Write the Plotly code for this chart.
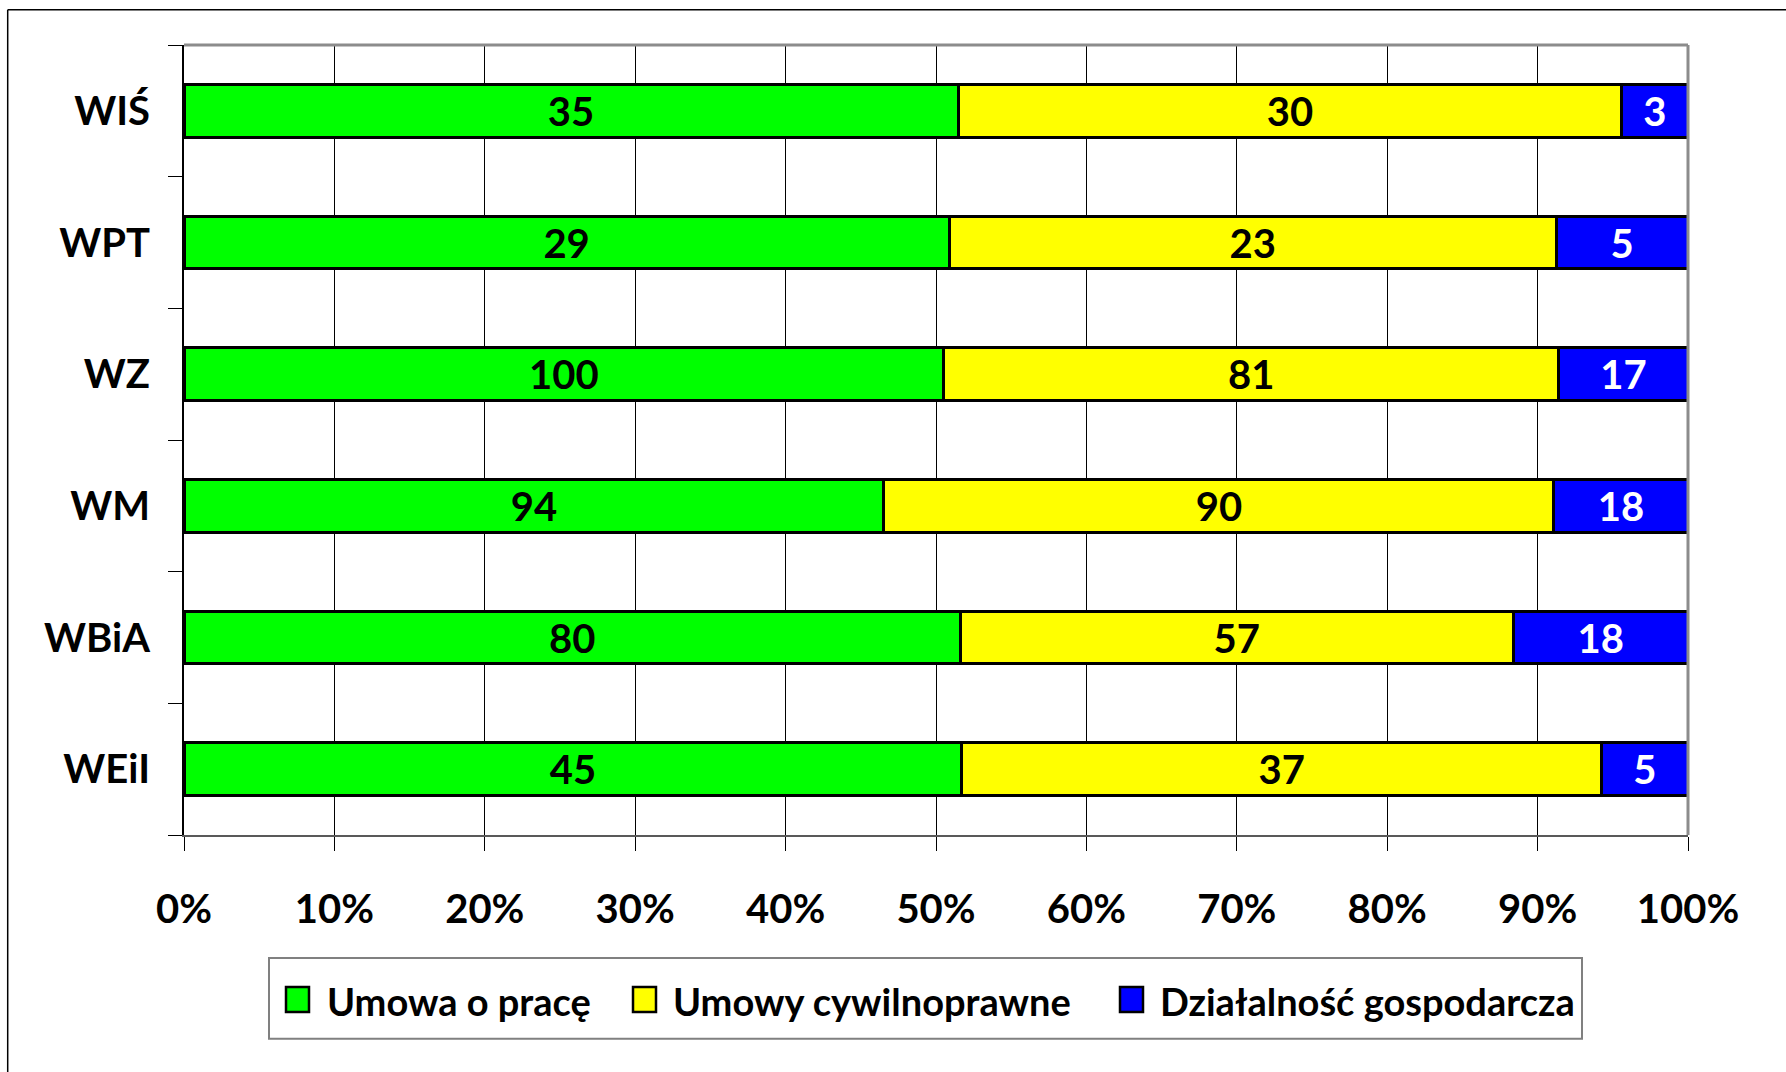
import plotly.graph_objects as go

categories = ["WEiI", "WBiA", "WM", "WZ", "WPT", "WIŚ"]
umowa_o_prace = [45, 80, 94, 100, 29, 35]
umowy_cywilnoprawne = [37, 57, 90, 81, 23, 30]
dzialalnosc = [5, 18, 18, 17, 5, 3]
series_names = ["Umowa o pracę", "Umowy cywilnoprawne", "Działalność gospodarcza"]
tick_vals = [0, 10, 20, 30, 40, 50, 60, 70, 80, 90, 100]
tick_text = ["0%", "10%", "20%", "30%", "40%", "50%", "60%", "70%", "80%", "90%", "100%"]

colors = ["#00FF00", "#FFFF00", "#0000FF"]
text_colors = ["#000000", "#000000", "#FFFFFF"]
FONT = "Lato, 'Open Sans', sans-serif"
FS = 40
LFS = 38

W, H = 1786, 1072
L, R, T, B = 184, 1688, 44.5, 835
pw, ph = R - L, B - T


def px(x):
    return (x - L) / pw


def py(y):
    return (B - y) / ph


fig = go.Figure()
for name, vals, c, tc in zip(series_names, [umowa_o_prace, umowy_cywilnoprawne, dzialalnosc], colors, text_colors):
    fig.add_trace(go.Bar(
        y=categories, x=vals, name=name, orientation="h",
        marker=dict(color=c, line=dict(color="#000000", width=3)),
        text=[str(v) for v in vals], textposition="inside", insidetextanchor="middle",
        textangle=0, constraintext="none",
        textfont=dict(family=FONT, size=FS, color=tc, weight="bold"),
        showlegend=False, hoverinfo="x+y+name",
    ))

shapes = []
# outer frame (left and top only)
shapes.append(dict(type="line", xref="paper", yref="paper", x0=px(7.7), x1=px(7.7), y0=py(1080), y1=py(9.3),
                   line=dict(color="#000000", width=1.5)))
shapes.append(dict(type="line", xref="paper", yref="paper", x0=px(7.7), x1=px(1800), y0=py(9.3), y1=py(9.3),
                   line=dict(color="#000000", width=1.5)))
# plot area top/right border
shapes.append(dict(type="line", xref="paper", yref="paper", x0=0, x1=1, y0=1, y1=1,
                   line=dict(color="#8C8C8C", width=3)))
shapes.append(dict(type="line", xref="paper", yref="paper", x0=1, x1=1, y0=0, y1=1,
                   line=dict(color="#8C8C8C", width=3)))
# legend box
shapes.append(dict(type="rect", xref="paper", yref="paper", x0=px(269), x1=px(1582), y0=py(1039), y1=py(958),
                   line=dict(color="#808080", width=2), fillcolor="rgba(0,0,0,0)"))

annotations = []
marker_x = [286, 633, 1120]
text_x = [325, 671, 1158]
for name, c, mx, tx in zip(series_names, colors, marker_x, text_x):
    shapes.append(dict(type="rect", xref="paper", yref="paper", x0=px(mx), x1=px(mx + 23), y0=py(1012), y1=py(987),
                       line=dict(color="#000000", width=2.5), fillcolor=c))
    annotations.append(dict(xref="paper", yref="paper", x=px(tx), y=py(1001), xanchor="left", yanchor="middle",
                            text=name, showarrow=False,
                            font=dict(family=FONT, size=LFS, color="#000000", weight="bold")))

fig.update_layout(
    width=W, height=H,
    margin=dict(l=L, r=W - R, t=T, b=H - B, pad=0),
    barmode="stack", barnorm="percent", bargap=0.6,
    paper_bgcolor="#FFFFFF", plot_bgcolor="#FFFFFF",
    font=dict(family=FONT, size=FS, color="#000000", weight="bold"),
    uniformtext=dict(minsize=FS, mode="show"),
    shapes=shapes, annotations=annotations,
    showlegend=False,
)
fig.update_xaxes(
    range=[0, 100], tickvals=tick_vals, ticktext=tick_text,
    showgrid=True, gridcolor="#000000", gridwidth=1,
    showline=True, linecolor="#595959", linewidth=2,
    ticks="outside", ticklen=14, tickcolor="#000000", tickwidth=1,
    ticklabelstandoff=24, zeroline=False,
    tickfont=dict(family=FONT, size=FS, color="#000000", weight="bold"),
)
fig.update_yaxes(
    categoryorder="array", categoryarray=categories,
    showgrid=False, showline=True, linecolor="#000000", linewidth=2,
    ticks="outside", ticklen=14, tickcolor="#000000", tickwidth=1, tickson="boundaries",
    ticklabelstandoff=24,
    tickfont=dict(family=FONT, size=FS, color="#000000", weight="bold"),
)

fig.write_html("out.html", config={"displayModeBar": False},
               post_script="document.body.style.margin='0';document.body.style.overflow='hidden';")
